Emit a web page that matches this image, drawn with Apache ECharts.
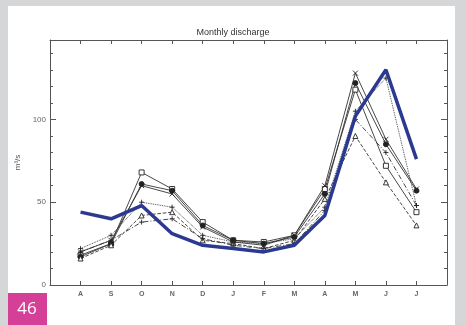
<!DOCTYPE html>
<html>
<head>
<meta charset="utf-8">
<script src="https://cdn.jsdelivr.net/npm/echarts@6/dist/echarts.min.js"></script>
<style>
  html, body { margin: 0; padding: 0; background: #d4d6d8; }
  #main { width: 466px; height: 325px; }
</style>
</head>
<body>
<div id="main"></div>
<script>
// month labels, Aug .. Jul
const months = ['A', 'S', 'O', 'N', 'D', 'J', 'F', 'M', 'A', 'M', 'J', 'J']

// observed / simulated discharge (m3/s)
const observed = [44, 40, 48, 31, 24, 22, 20, 24, 42, 102, 130, 76]
const runSquare = [18, 25, 68, 58, 38, 27, 26, 30, 58, 118, 72, 44]
const runCircle = [17, 25, 61, 57, 36, 27, 25, 29, 55, 122, 85, 57]
const runCross = [20, 27, 60, 55, 35, 26, 24, 30, 60, 128, 88, 58]
const runTriangle = [16, 24, 42, 44, 27, 25, 22, 27, 52, 90, 62, 36]
const runPlus = [22, 30, 50, 47, 30, 26, 25, 28, 47, 105, 125, 48]
const runDashDot = [20, 27, 38, 40, 28, 24, 22, 25, 45, 100, 80, 48]

const yTicks = [0, 50, 100]

const xPath = 'path://M0,0L10,10M10,0L0,10'
const plusPath = 'path://M5,0L5,10M0,5L10,5'

function pts(arr) {
  return arr.map((v, i) => [i + 1, v])
}

function run(name, data, symbol, lineType, filled) {
  return {
    name: name,
    type: 'line',
    data: pts(data),
    symbol: symbol,
    symbolSize: 5,
    lineStyle: { color: '#333', width: 0.9, type: lineType },
    itemStyle: { color: filled ? '#222' : '#fff', borderColor: '#222', borderWidth: 0.9 },
    z: 2
  }
}

const chartDom = document.getElementById('main')
const myChart = echarts.init(chartDom, null, { renderer: 'canvas' })

const axisCommon = {
  axisLine: { show: true, onZero: false, lineStyle: { color: '#555', width: 1 } },
  splitLine: { show: false }
}

const option = {
  animation: false,
  backgroundColor: '#d4d6d8',
  graphic: [
    { type: 'rect', shape: { x: 8, y: 6, width: 447, height: 320 }, style: { fill: '#fff' }, z: -10 },
    { type: 'rect', shape: { x: 8, y: 293, width: 39, height: 32 }, style: { fill: '#d63f97' }, z: 10 },
    { type: 'text', x: 27, y: 309, style: { text: '46', fill: '#fff', font: '17px "Open Sans", sans-serif', textAlign: 'center', textVerticalAlign: 'middle' }, z: 11 }
  ],
  title: {
    text: 'Monthly discharge',
    left: 'center',
    top: 23,
    textStyle: { fontSize: 9, fontWeight: 'normal', color: '#333', fontFamily: 'Liberation Sans, sans-serif' }
  },
  grid: { left: 50, right: 19, top: 40, bottom: 40 },
  xAxis: [
    Object.assign({}, axisCommon, {
      type: 'value', min: 0, max: 13, interval: 1, position: 'bottom',
      axisTick: { inside: true, length: 4, lineStyle: { color: '#555' } },
      axisLabel: {
        fontSize: 7, fontWeight: 'bold', color: '#666', margin: 6,
        formatter: v => (v >= 1 && v <= 12 ? months[v - 1] : '')
      }
    }),
    Object.assign({}, axisCommon, {
      type: 'value', min: 0, max: 13, interval: 1, position: 'top',
      axisTick: { inside: true, length: 4, lineStyle: { color: '#555' } },
      axisLabel: { show: false }
    })
  ],
  yAxis: [
    Object.assign({}, axisCommon, {
      type: 'value', min: 0, max: 148, interval: 50, position: 'left',
      name: 'm³/s', nameLocation: 'middle', nameGap: 22, nameRotate: 90,
      nameTextStyle: { fontSize: 8, color: '#555' },
      axisTick: { inside: true, length: 6, lineStyle: { color: '#555' } },
      minorTick: { show: true, splitNumber: 5, length: 3, lineStyle: { color: '#555' } },
      axisLabel: {
        fontSize: 8, color: '#666', margin: 4, showMaxLabel: false,
        formatter: v => (yTicks.indexOf(v) >= 0 ? String(v) : '')
      }
    }),
    Object.assign({}, axisCommon, {
      type: 'value', min: 0, max: 148, interval: 50, position: 'right',
      axisTick: { inside: true, length: 6, lineStyle: { color: '#555' } },
      minorTick: { show: true, splitNumber: 5, length: 3, lineStyle: { color: '#555' } },
      axisLabel: { show: false }
    })
  ],
  series: [
    run('square', runSquare, 'rect', 'solid', false),
    run('circle', runCircle, 'circle', 'solid', true),
    run('cross', runCross, xPath, 'solid', false),
    run('triangle', runTriangle, 'triangle', 'dashed', false),
    run('plus', runPlus, plusPath, 'dotted', false),
    run('dashdot', runDashDot, plusPath, [5, 2, 1, 2], false),
    {
      name: 'observed',
      type: 'line',
      data: pts(observed),
      symbol: 'none',
      lineStyle: { color: '#2b3990', width: 3.5 },
      z: 5
    }
  ]
}

option && myChart.setOption(option)
</script>
</body>
</html>
